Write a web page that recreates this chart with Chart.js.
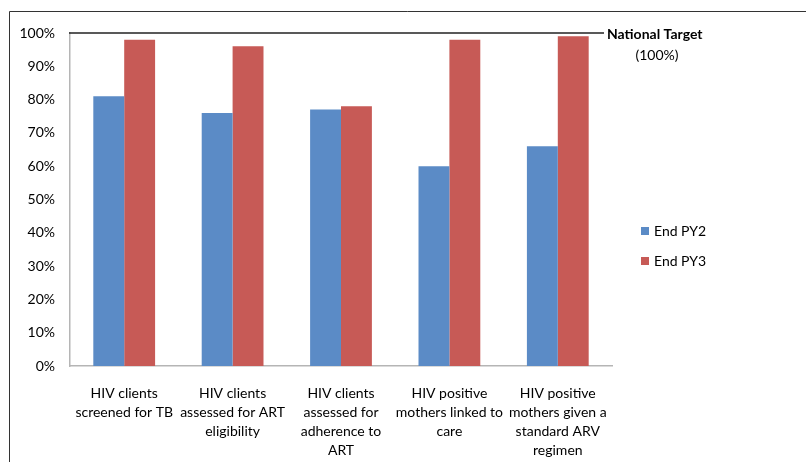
<!DOCTYPE html>
<html>
<head>
<meta charset="utf-8">
<script src="https://cdn.jsdelivr.net/npm/chart.js@4"></script>
<style>
  html, body { margin: 0; padding: 0; background: #fff; }
  #wrap { position: relative; width: 806px; height: 462px; }
</style>
</head>
<body>
<div id="wrap"><canvas id="grafica" width="806" height="462"></canvas></div>
<script>
// Data
const categorias = [
  ["HIV clients", "screened for TB"],
  ["HIV clients", "assessed for ART", "eligibility"],
  ["HIV clients", "assessed for", "adherence to", "ART"],
  ["HIV positive", "mothers linked to", "care"],
  ["HIV positive", "mothers given a", "standard ARV", "regimen"]
];
const valoresPY2 = [81, 76, 77, 60, 66];
const valoresPY3 = [98, 96, 78, 98, 99];
const etiquetasSeries = ["End PY2", "End PY3"];
const metaNacional = 100;
const textoMeta = ["National Target", "(100%)"];

const FUENTE = "Lato, 'Open Sans', sans-serif";

// Marco, linea de meta y leyenda
const extras = {
  id: "extras",
  beforeDraw(chart) {
    const c = chart.ctx;
    c.save();
    c.fillStyle = "#fff";
    c.fillRect(0, 0, chart.width, chart.height);
    c.strokeStyle = "#333";
    c.lineWidth = 1;
    c.beginPath();
    c.moveTo(9.5, 462);
    c.lineTo(9.5, 11.5);
    c.lineTo(806, 11.5);
    c.stroke();
    c.restore();
  },
  afterDraw(chart) {
    const c = chart.ctx;
    const y = chart.scales.y.getPixelForValue(metaNacional);
    c.save();
    c.strokeStyle = "#222";
    c.lineWidth = 1.5;
    c.beginPath();
    c.moveTo(69, y);
    c.lineTo(604, y);
    c.stroke();

    c.fillStyle = "#000";
    c.font = "bold 14px " + FUENTE;
    c.textBaseline = "middle";
    c.textAlign = "left";
    c.fillText(textoMeta[0], 607, y + 1);
    c.font = "14px " + FUENTE;
    c.textAlign = "center";
    c.fillText(textoMeta[1], 657, y + 22);

    // leyenda
    c.textAlign = "left";
    chart.data.datasets.forEach((ds, i) => {
      const ly = 231 + i * 30;
      c.fillStyle = ds.backgroundColor;
      c.fillRect(641, ly - 4, 8, 8);
      c.fillStyle = "#000";
      c.font = "14px " + FUENTE;
      c.fillText(ds.label, 654, ly);
    });
    c.restore();
  }
};

const ctx = document.getElementById("grafica").getContext("2d");
new Chart(ctx, {
  type: "bar",
  data: {
    labels: categorias,
    datasets: [
      { label: etiquetasSeries[0], data: valoresPY2, backgroundColor: "#5b8bc6" },
      { label: etiquetasSeries[1], data: valoresPY3, backgroundColor: "#c75a56" }
    ]
  },
  options: {
    responsive: false,
    animation: false,
    categoryPercentage: 0.57,
    barPercentage: 1,
    layout: { padding: { left: 0, top: 33, right: 194, bottom: 0 } },
    plugins: {
      legend: { display: false },
      tooltip: { enabled: false }
    },
    scales: {
      x: {
        grid: { display: false },
        border: { color: "#b5b5b5", width: 1.5 },
        ticks: {
          color: "#000",
          font: { family: FUENTE, size: 14, lineHeight: 1.36 },
          maxRotation: 0,
          autoSkip: false,
          padding: 10
        },
        afterFit(scale) { scale.height = 96; }
      },
      y: {
        min: 0,
        max: 100,
        grid: { display: false },
        border: { color: "#b5b5b5", width: 1.5 },
        ticks: {
          stepSize: 10,
          color: "#000",
          font: { family: FUENTE, size: 14 },
          padding: 7,
          callback: v => v + "%"
        },
        afterFit(scale) { scale.width = 70; }
      }
    }
  },
  plugins: [extras]
});
</script>
</body>
</html>
